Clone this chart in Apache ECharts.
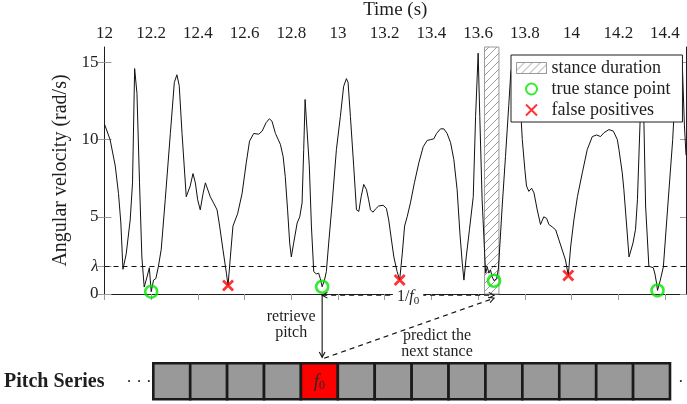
<!DOCTYPE html>
<html>
<head>
<meta charset="utf-8">
<script src="https://cdn.jsdelivr.net/npm/echarts@6/dist/echarts.min.js"></script>
<style>
  html, body { margin: 0; padding: 0; background: #fff; }
  #chart { width: 687px; height: 404px; }
</style>
</head>
<body>
<div id="chart"></div>
<script>
// Shank angular velocity over time: [time (s), rad/s]
const velocity = [
  [12.000, 11.0], [12.024, 10.0], [12.046, 8.3], [12.060, 6.5], [12.070, 4.6],
  [12.079, 1.6], [12.093, 2.6], [12.110, 4.8], [12.120, 7.2], [12.129, 14.6],
  [12.139, 13.0], [12.150, 7.2], [12.160, 2.4], [12.170, 0.45], [12.182, 1.1],
  [12.192, 1.7], [12.200, 0.15], [12.210, 0.9], [12.220, 1.0], [12.231, 1.8],
  [12.243, 2.9], [12.260, 6.1], [12.282, 10.4], [12.299, 13.7], [12.310, 14.2],
  [12.320, 13.5], [12.332, 10.4], [12.350, 6.3], [12.367, 7.0], [12.379, 7.8],
  [12.389, 7.2], [12.399, 6.1], [12.410, 5.45], [12.422, 6.5], [12.432, 7.2],
  [12.440, 7.2], [12.453, 6.3], [12.467, 5.9], [12.482, 5.45], [12.493, 4.4],
  [12.507, 2.9], [12.522, 1.35], [12.529, 0.55], [12.539, 2.4], [12.550, 4.4],
  [12.570, 5.2], [12.589, 6.5], [12.607, 8.5], [12.621, 9.9], [12.639, 10.4],
  [12.660, 10.35], [12.675, 10.55], [12.692, 11.1], [12.706, 11.35], [12.717, 11.2],
  [12.732, 10.4], [12.753, 9.7], [12.765, 8.9], [12.774, 7.6], [12.784, 5.45],
  [12.793, 3.3], [12.800, 2.4], [12.810, 3.3], [12.825, 4.6], [12.836, 5.0],
  [12.846, 5.9], [12.853, 9.35], [12.859, 12.6], [12.867, 12.5], [12.877, 8.3],
  [12.886, 4.4], [12.896, 1.45], [12.907, 1.3], [12.917, 1.35], [12.924, 1.0],
  [12.932, 0.47], [12.942, 0.9], [12.950, 1.45], [12.960, 3.3], [12.975, 5.9],
  [12.993, 9.35], [13.010, 11.5], [13.024, 13.45], [13.036, 13.95], [13.043, 13.7],
  [13.053, 11.5], [13.067, 8.3], [13.079, 5.45], [13.089, 5.35], [13.099, 6.3],
  [13.110, 7.1], [13.122, 6.75], [13.131, 6.1], [13.139, 5.45], [13.150, 5.3],
  [13.160, 5.5], [13.174, 5.7], [13.193, 5.75], [13.207, 5.55], [13.217, 4.8],
  [13.227, 3.7], [13.239, 2.4], [13.253, 1.45], [13.264, 0.91], [13.275, 2.6],
  [13.285, 4.4], [13.296, 5.0], [13.310, 5.9], [13.327, 7.2], [13.346, 8.5],
  [13.365, 9.55], [13.382, 9.95], [13.396, 10.0], [13.410, 10.05], [13.422, 10.4],
  [13.439, 10.7], [13.453, 10.7], [13.467, 10.4], [13.482, 9.8], [13.496, 8.7],
  [13.510, 6.75], [13.522, 3.9], [13.532, 2.0], [13.539, 0.9], [13.549, 2.4],
  [13.563, 4.2], [13.579, 6.3], [13.589, 11.5], [13.600, 15.6], [13.607, 11.5],
  [13.617, 6.1], [13.627, 2.9], [13.632, 1.35], [13.639, 1.75], [13.646, 1.35],
  [13.653, 1.55], [13.660, 1.1], [13.668, 0.86], [13.679, 1.0], [13.686, 1.55],
  [13.689, 2.2], [13.703, 5.7], [13.717, 8.9], [13.731, 12.2], [13.740, 14.4],
  [13.752, 15.2], [13.768, 14.0], [13.785, 11.1], [13.789, 10.0], [13.800, 8.05],
  [13.807, 7.0], [13.817, 6.65], [13.829, 6.85], [13.839, 6.55], [13.853, 5.45],
  [13.867, 4.5], [13.881, 5.0], [13.893, 4.9], [13.903, 4.5], [13.917, 4.35],
  [13.932, 4.15], [13.946, 3.5], [13.960, 2.85], [13.974, 2.2], [13.986, 1.2],
  [13.996, 3.05], [14.010, 4.8], [14.025, 6.3], [14.046, 7.85], [14.067, 9.35],
  [14.089, 10.2], [14.107, 10.3], [14.124, 10.2], [14.139, 10.45], [14.160, 10.65],
  [14.179, 10.55], [14.196, 10.0], [14.203, 9.35], [14.217, 7.85], [14.224, 6.75],
  [14.236, 4.4], [14.246, 2.4], [14.263, 3.3], [14.274, 4.2], [14.282, 6.1],
  [14.293, 11.0], [14.301, 14.5], [14.310, 11.0], [14.317, 5.7], [14.331, 1.8],
  [14.339, 1.7], [14.350, 1.7], [14.357, 1.3], [14.364, 0.7], [14.368, 0.23],
  [14.380, 0.9], [14.386, 1.0], [14.393, 1.75], [14.412, 5.7], [14.433, 10.0],
  [14.445, 13.5], [14.460, 15.4], [14.474, 15.0], [14.483, 11.0], [14.490, 9.0]
];

// Detected stance events
const trueStance = [[12.200, 0.15], [12.932, 0.47], [13.668, 0.86], [14.368, 0.23]];
const falsePositives = [[12.529, 0.55], [13.264, 0.91], [13.986, 1.2]];
const stanceDuration = [[13.627, 13.689]];
const lambda = 1.8;

// Axis ticks
const xTicks = [12, 12.2, 12.4, 12.6, 12.8, 13, 13.2, 13.4, 13.6, 13.8, 14, 14.2, 14.4];
const yTicks = [0, lambda, 5, 10, 15];

// Pitch series cells (1 marks the current f0)
const pitchCells = [0, 0, 0, 0, 1, 0, 0, 0, 0, 0, 0, 0, 0, 0];
const f0Index = 4;

const SERIF = '"Liberation Serif", "Times New Roman", serif';
const INK = '#1e1e1e';

// Diagonal hatching for the stance-duration band
const hatchCanvas = document.createElement('canvas');
hatchCanvas.width = 8; hatchCanvas.height = 8;
(function () {
  const g = hatchCanvas.getContext('2d');
  g.strokeStyle = '#9a9a9a';
  g.lineWidth = 1;
  g.beginPath();
  g.moveTo(0, 8); g.lineTo(8, 0);
  g.moveTo(-1, 1); g.lineTo(1, -1);
  g.moveTo(7, 9); g.lineTo(9, 7);
  g.stroke();
})();
const hatch = { image: hatchCanvas, repeat: 'repeat' };

const X_MIN = 12, X_MAX = 14.49, Y_MIN = 0, Y_MAX = 16;

const chart = echarts.init(document.getElementById('chart'), null, { renderer: 'canvas' });

const option = {
  animation: false,
  backgroundColor: '#fff',
  textStyle: { fontFamily: SERIF, color: INK },
  grid: [
    { left: 104.5, right: 1, top: 47, bottom: 110, containLabel: false, outerBoundsMode: 'none' },
    { left: 153.3, right: 17, top: 363.3, bottom: 4.7, containLabel: false, outerBoundsMode: 'none' }
  ],
  legend: {
    left: 511, top: 55,
    orient: 'vertical',
    selectedMode: false,
    backgroundColor: '#fff',
    borderColor: INK,
    borderWidth: 1,
    padding: [4, 12, 3, 5],
    itemGap: 3,
    itemWidth: 30,
    itemHeight: 11,
    textStyle: { fontFamily: SERIF, fontSize: 18, color: INK },
    data: [
      { name: 'stance duration', icon: 'rect', itemStyle: { color: hatch, borderColor: '#999', borderWidth: 1 } },
      { name: 'true stance point' },
      { name: 'false positives' }
    ]
  },
  xAxis: [
    {
      type: 'value', gridIndex: 0, position: 'top',
      min: X_MIN, max: X_MAX,
      name: 'Time (s)', nameLocation: 'middle', nameGap: 27,
      nameTextStyle: { fontFamily: SERIF, fontSize: 19, color: INK },
      axisLine: { show: true, lineStyle: { color: INK, width: 1 } },
      axisTick: { show: true, inside: true, length: 6, customValues: xTicks, lineStyle: { color: '#9a9a9a' } },
      axisLabel: { customValues: xTicks, margin: 5, fontFamily: SERIF, fontSize: 17, color: INK },
      splitLine: { show: false }
    },
    {
      type: 'category', gridIndex: 1, boundaryGap: true,
      data: pitchCells.map((_, i) => i),
      show: false
    }
  ],
  yAxis: [
    {
      type: 'value', gridIndex: 0, position: 'left',
      min: Y_MIN, max: Y_MAX,
      name: 'Angular velocity (rad/s)', nameLocation: 'middle', nameGap: 34, nameRotate: 90,
      nameTextStyle: { fontFamily: SERIF, fontSize: 20, color: INK },
      axisLine: { show: true, lineStyle: { color: INK, width: 1 } },
      axisTick: { show: true, inside: false, length: 7, customValues: yTicks, lineStyle: { color: '#9a9a9a' } },
      axisLabel: {
        customValues: yTicks, margin: 6, fontFamily: SERIF, fontSize: 17, color: INK,
        formatter: v => (Math.abs(v - lambda) < 1e-9 ? '{l|λ}' : String(v)),
        rich: { l: { fontFamily: SERIF, fontStyle: 'italic', fontSize: 17, color: INK } }
      },
      splitLine: { show: false }
    },
    {
      type: 'value', gridIndex: 0, position: 'left',
      min: Y_MIN, max: Y_MAX,
      axisLine: { show: false },
      axisTick: { show: true, inside: true, length: 7, customValues: yTicks, lineStyle: { color: '#9a9a9a' } },
      axisLabel: { show: false },
      splitLine: { show: false }
    },
    {
      type: 'value', gridIndex: 0, position: 'right',
      min: Y_MIN, max: Y_MAX,
      axisLine: { show: true, lineStyle: { color: INK, width: 1 } },
      axisTick: { show: true, inside: true, length: 6, customValues: yTicks, lineStyle: { color: '#9a9a9a' } },
      axisLabel: { show: false },
      splitLine: { show: false }
    },
    { type: 'value', gridIndex: 1, min: 0, max: 1, show: false }
  ],
  series: [
    {
      name: 'stance duration',
      type: 'custom',
      xAxisIndex: 0, yAxisIndex: 0,
      z: 1,
      silent: true,
      encode: { x: [0, 1] },
      data: stanceDuration,
      renderItem: function (params, api) {
        const p0 = api.coord([api.value(0), Y_MAX]);
        const p1 = api.coord([api.value(1), Y_MIN]);
        return {
          type: 'rect',
          shape: { x: p0[0], y: p0[1], width: p1[0] - p0[0], height: p1[1] - p0[1] },
          style: { fill: hatch, stroke: '#9a9a9a', lineWidth: 1 }
        };
      }
    },
    {
      name: 'velocity',
      type: 'line',
      xAxisIndex: 0, yAxisIndex: 0,
      z: 3,
      silent: true,
      data: velocity,
      showSymbol: false,
      symbol: 'none',
      lineStyle: { color: '#111', width: 1 },
      markLine: {
        silent: true,
        symbol: ['none', 'none'],
        label: { show: false },
        lineStyle: { color: '#111', width: 1, type: [5, 4] },
        data: [{ yAxis: lambda }]
      }
    },
    {
      name: 'true stance point',
      type: 'scatter',
      xAxisIndex: 0, yAxisIndex: 0,
      z: 3,
      silent: true,
      data: trueStance,
      symbol: 'circle',
      symbolSize: 12,
      itemStyle: { color: 'transparent', borderColor: '#00e600', borderWidth: 2.6 }
    },
    {
      name: 'false positives',
      type: 'scatter',
      xAxisIndex: 0, yAxisIndex: 0,
      z: 3,
      silent: true,
      data: falsePositives,
      symbol: 'path://M0,0L10,10M10,0L0,10',
      symbolSize: 10,
      itemStyle: { color: 'transparent', borderColor: '#ff0000', borderWidth: 2.8 }
    },
    {
      name: 'pitch series',
      type: 'custom',
      xAxisIndex: 1, yAxisIndex: 3,
      silent: true,
      encode: { x: 0, y: 1 },
      data: pitchCells.map((v, i) => [i, v]),
      renderItem: function (params, api) {
        const i = api.value(0);
        const top = api.coord([i, 1]);
        const bottom = api.coord([i, 0]);
        const w = api.size([1, 0])[0];
        const isF0 = api.value(1) === 1;
        const children = [{
          type: 'rect',
          shape: { x: top[0] - w / 2, y: top[1], width: w, height: bottom[1] - top[1] },
          style: { fill: isF0 ? '#ff0000' : '#999999', stroke: '#1a1a1a', lineWidth: 2.6 }
        }];
        if (isF0) {
          children.push({
            type: 'text',
            z2: 10,
            style: {
              text: '{f|f}{s|0}',
              x: top[0], y: (top[1] + bottom[1]) / 2 + 1,
              align: 'center', verticalAlign: 'middle',
              rich: {
                f: { fontFamily: SERIF, fontStyle: 'italic', fontSize: 19, fill: '#2a2a2a', color: '#2a2a2a' },
                s: { fontFamily: SERIF, fontSize: 12, fill: '#2a2a2a', color: '#2a2a2a', padding: [8, 0, 0, 0] }
              }
            }
          });
        }
        return { type: 'group', children: children };
      }
    }
  ]
};

chart.setOption(option);

// Annotations tying stance points to the pitch series
function arrowHead(x, y, ang) {
  const L = 6, s = 0.5;
  return {
    type: 'polyline', silent: true, z: 20,
    shape: { points: [
      [x - L * Math.cos(ang - s), y - L * Math.sin(ang - s)],
      [x, y],
      [x - L * Math.cos(ang + s), y - L * Math.sin(ang + s)]
    ] },
    style: { stroke: '#111', lineWidth: 1.1, fill: null }
  };
}
function seg(x1, y1, x2, y2, dashed) {
  return {
    type: 'line', silent: true, z: 20,
    shape: { x1: x1, y1: y1, x2: x2, y2: y2 },
    style: { stroke: '#111', lineWidth: 1.1, lineDash: dashed ? [5, 4] : null }
  };
}
function label(text, x, y, font, extra) {
  return {
    type: 'text', silent: true, z: 21,
    style: Object.assign({
      text: text, x: x, y: y,
      font: font,
      fill: INK,
      align: 'center', verticalAlign: 'middle',
      textAlign: 'center', textVerticalAlign: 'middle'
    }, extra || {})
  };
}

const pA = chart.convertToPixel({ gridIndex: 0 }, trueStance[1]);
const pB = chart.convertToPixel({ gridIndex: 0 }, trueStance[2]);
const cellTop = chart.convertToPixel({ gridIndex: 1 }, [f0Index, 1]);
const firstCell = chart.convertToPixel({ gridIndex: 1 }, [0, 0.5]);
const lastCell = chart.convertToPixel({ gridIndex: 1 }, [pitchCells.length - 1, 0.5]);
const cellW = (lastCell[0] - firstCell[0]) / (pitchCells.length - 1);

const yh = pA[1] + 8.5;
const yTip = cellTop[1] - 6;
const F16 = '16px ' + SERIF;

chart.setOption({
  graphic: [
    // 1/f0 spacing between consecutive stances
    seg(pA[0], yh, pB[0], yh, true),
    arrowHead(pA[0], yh, Math.PI),
    arrowHead(pB[0], yh, 0),
    label('1/{i|f}{s|0}', (pA[0] + pB[0]) / 2, yh + 2, F16, {
      backgroundColor: '#fff', padding: [0, 4, 0, 4],
      rich: {
        i: { fontFamily: SERIF, fontStyle: 'italic', fontSize: 16, fill: INK },
        s: { fontFamily: SERIF, fontSize: 11, fill: INK, padding: [7, 0, 0, 0] }
      }
    }),
    // retrieve pitch
    seg(pA[0], yh, pA[0], yTip, false),
    arrowHead(pA[0], yTip, Math.PI / 2),
    label('retrieve', pA[0] - 31, 317, F16),
    label('pitch', pA[0] - 31, 333, F16),
    // predict the next stance
    seg(pA[0] + 2, yTip + 1, pB[0], yh + 3, true),
    arrowHead(pB[0], yh + 3, Math.atan2((yh + 3) - (yTip + 1), pB[0] - (pA[0] + 2))),
    label('predict the', 437, 336, F16),
    label('next stance', 437, 352, F16),
    // pitch series caption
    label('Pitch Series', 4, firstCell[1] + 1, 'bold 20px ' + SERIF, { align: 'left', textAlign: 'left' }),
    label('· · ·', firstCell[0] - cellW / 2 - 27, firstCell[1] + 1, '17px ' + SERIF, { align: 'left', textAlign: 'left' }),
    label('· · ·', lastCell[0] + cellW / 2 + 8, firstCell[1] + 1, '17px ' + SERIF, { align: 'left', textAlign: 'left' })
  ]
});
</script>
</body>
</html>
